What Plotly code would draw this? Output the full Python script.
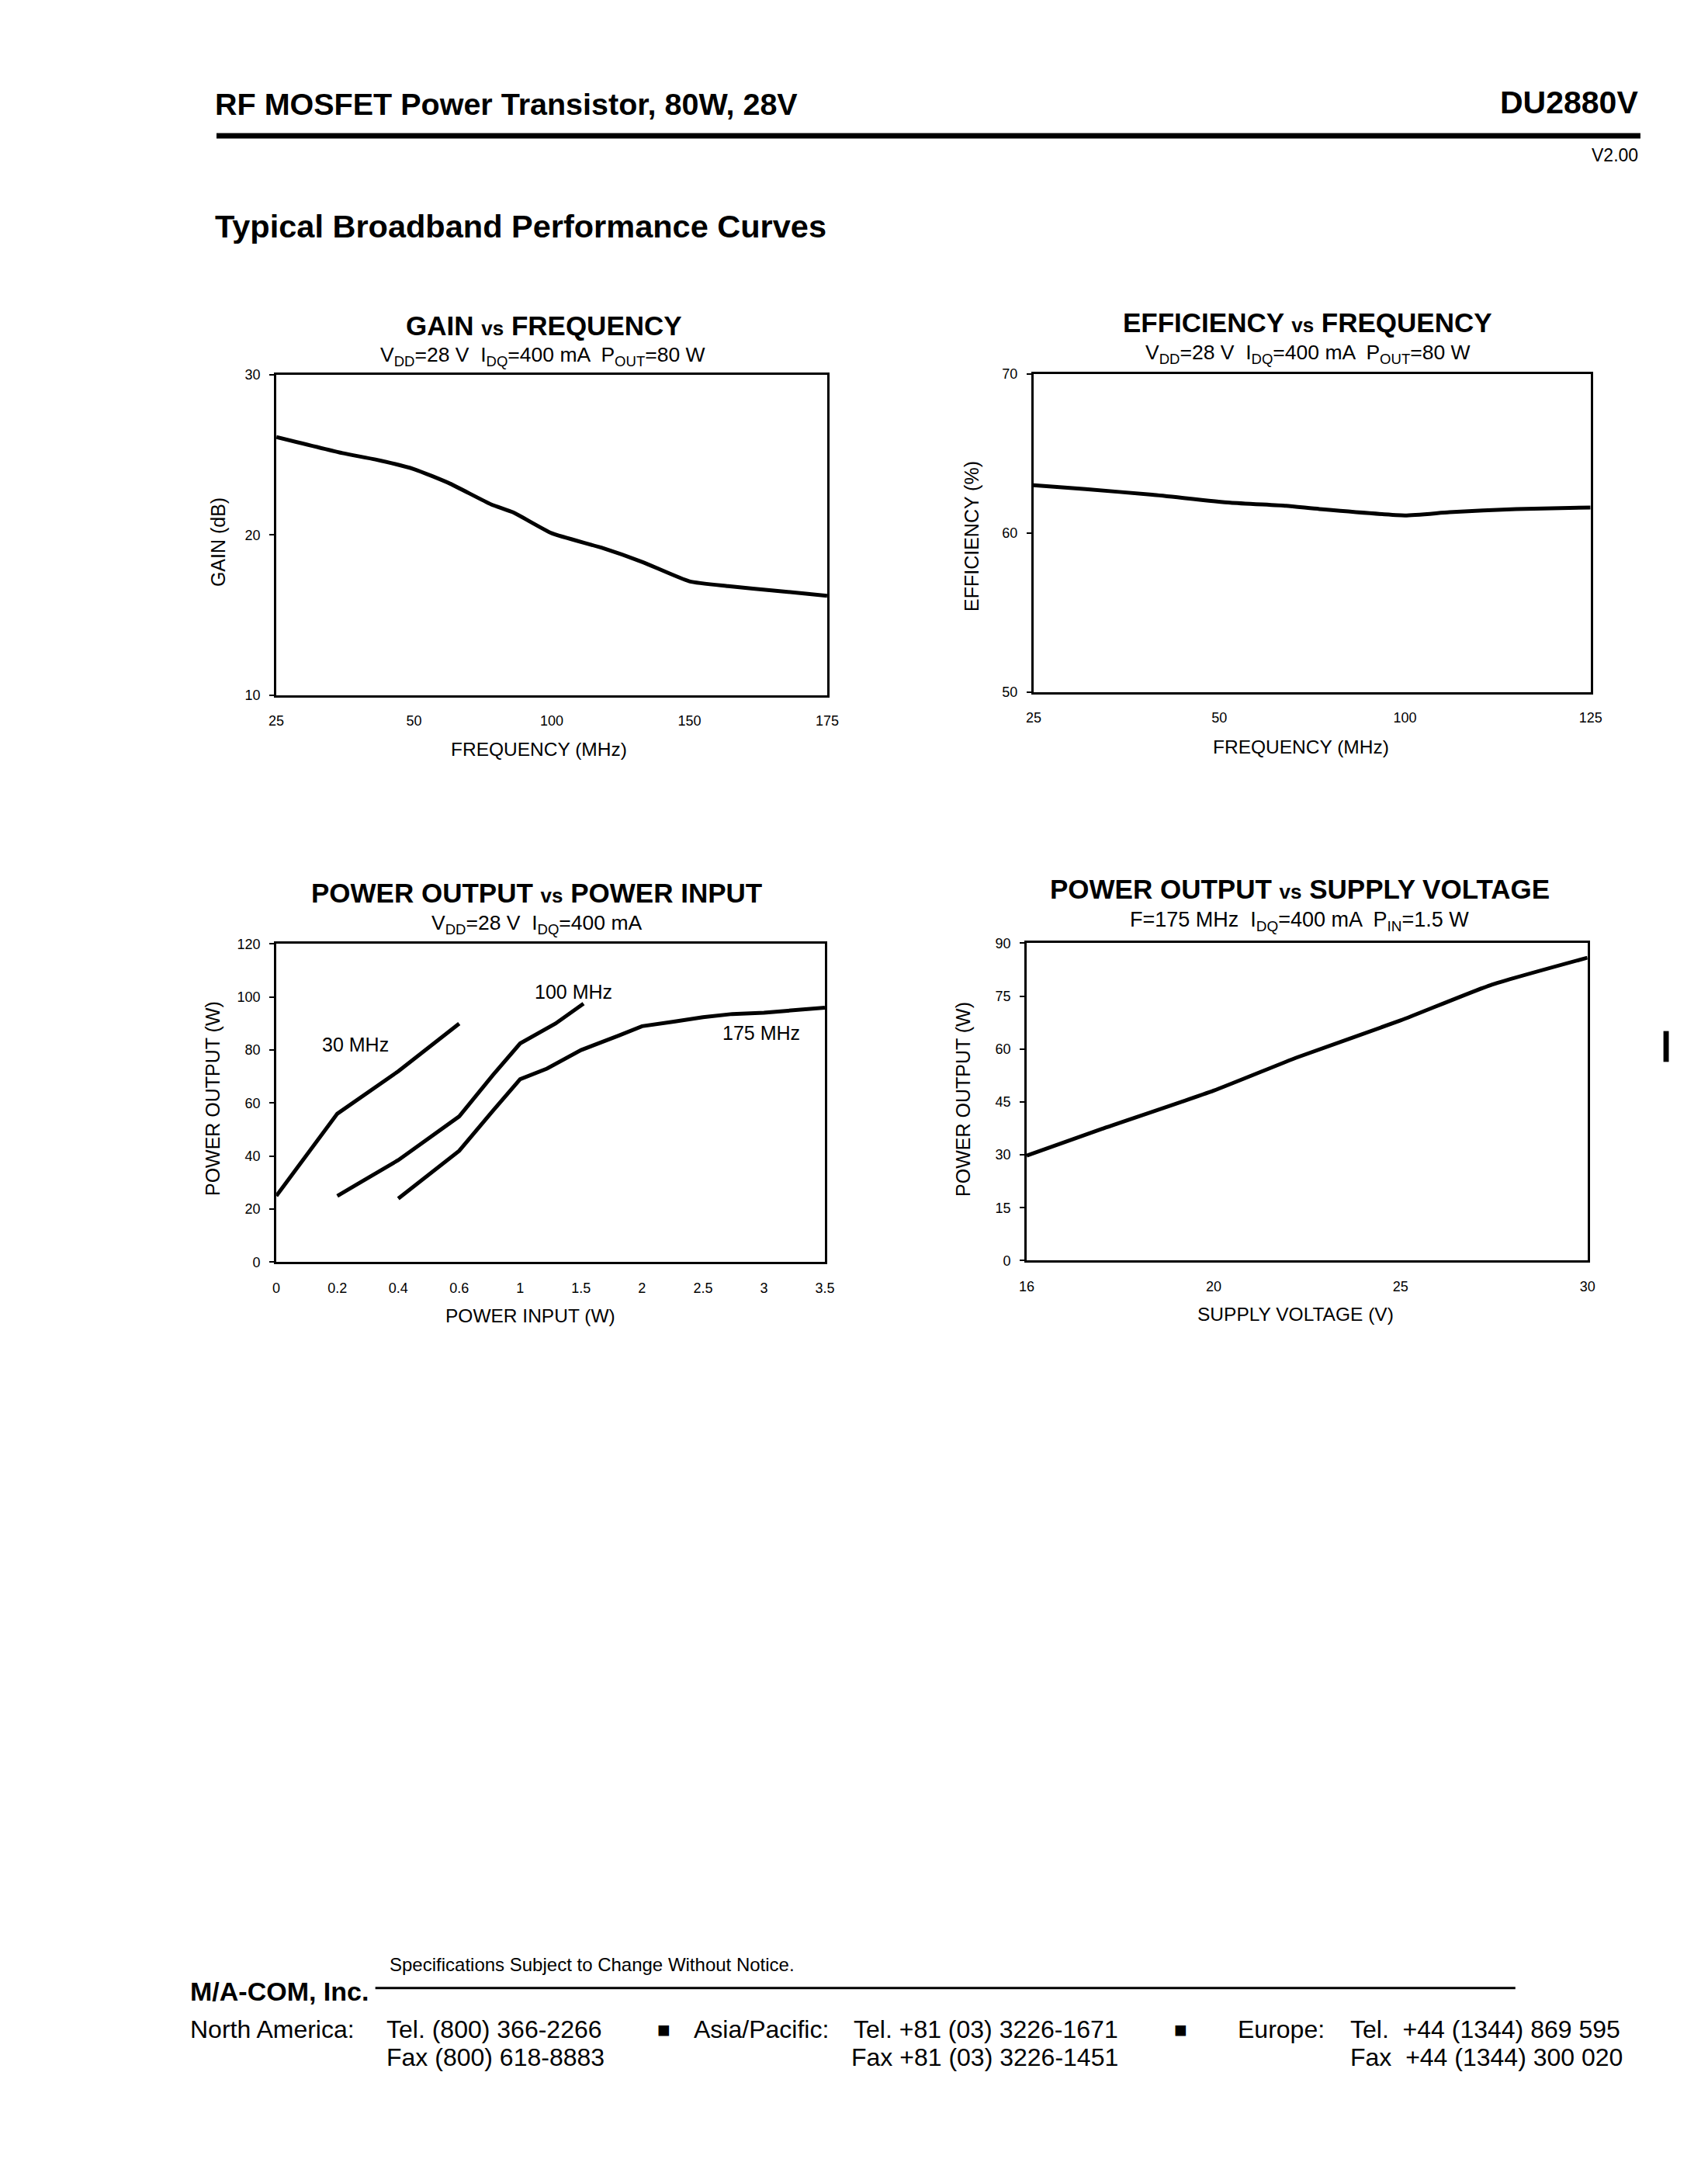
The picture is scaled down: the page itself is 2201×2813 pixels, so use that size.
import numpy as np
import plotly.graph_objects as go

W, H = 2201, 2813
FONT = "Liberation Sans"

# gain vs frequency
gain_freq = [25, 37, 43, 50, 63, 78, 86, 100, 118, 133, 150, 157, 166, 175]
gain_db = [26.1, 25.1, 24.7, 24.1, 23.2, 21.9, 21.4, 20.1, 19.2, 18.3, 17.1, 16.8, 16.5, 16.2]
gain_xticks = [25, 50, 100, 150, 175]
gain_yticks = [10, 20, 30]

# efficiency vs frequency
eff_freq = [25, 32, 41, 53, 68, 77, 100, 106, 115, 125]
eff_pct = [63.0, 62.75, 62.4, 61.9, 61.7, 61.5, 61.1, 61.3, 61.5, 61.6]
eff_xticks = [25, 50, 100, 125]
eff_yticks = [50, 60, 70]

# power output vs power input
pin_30 = [0, 0.2, 0.4, 0.6]
pout_30 = [25, 56, 72, 90]
pin_100 = [0.2, 0.4, 0.6, 0.82, 1.0, 1.29, 1.52]
pout_100 = [25, 38.5, 55, 70.5, 82.5, 90, 97.5]
pin_175 = [0.4, 0.6, 0.82, 1.0, 1.22, 1.5, 1.81, 2.0, 2.26, 2.5, 2.74, 3.0, 3.5]
pout_175 = [24, 42, 57, 69, 73, 80, 85.5, 89, 90.7, 92.4, 93.6, 94.1, 96]
pin_xticks = [0, 0.2, 0.4, 0.6, 1, 1.5, 2, 2.5, 3, 3.5]
pin_xlabels = ["0", "0.2", "0.4", "0.6", "1", "1.5", "2", "2.5", "3", "3.5"]
pin_yticks = [0, 20, 40, 60, 80, 100, 120]
freq_labels = ["30 MHz", "100 MHz", "175 MHz"]

# power output vs supply voltage
vdd = [16, 17.6, 20, 22.25, 25, 27.4, 30]
pout_vdd = [29.8, 37.3, 48.2, 57.7, 68.1, 78.1, 85.9]
vdd_xticks = [16, 20, 25, 30]
vdd_yticks = [0, 15, 30, 45, 60, 75, 90]


def pos(vals, ticks):
    """place values on an axis whose ticks are equally spaced"""
    return np.interp(vals, ticks, np.arange(len(ticks)))


def px(x):
    return x / W


def py(y):
    return 1 - y / H


def text(fig, s, x, y, size, xanchor="center", angle=0, bold=False):
    if bold:
        s = "<b>" + s + "</b>"
    fig.add_annotation(text=s, x=px(x), y=py(y), xref="paper", yref="paper",
                       xanchor=xanchor, yanchor="middle", showarrow=False,
                       textangle=angle, font=dict(family=FONT, size=size, color="black"))


def xaxis(ticks, dom, anchor, labels=None):
    return dict(domain=dom, anchor=anchor, range=[0, len(ticks) - 1],
                tickvals=list(range(len(ticks))),
                ticktext=labels or [str(t) for t in ticks],
                showline=True, linecolor="black", linewidth=3, mirror=True,
                showgrid=False, zeroline=False, ticks="", ticklabelstandoff=15,
                tickfont=dict(family=FONT, size=18, color="black"))


def yaxis(ticks, dom, anchor):
    return dict(domain=dom, anchor=anchor, range=[ticks[0], ticks[-1]], tickvals=ticks,
                showline=True, linecolor="black", linewidth=3, mirror=True,
                showgrid=False, zeroline=False, ticks="outside", ticklen=6, tickwidth=2,
                tickcolor="black", ticklabelstandoff=8,
                tickfont=dict(family=FONT, size=18, color="black"))


line = dict(color="black", width=5)
smooth = dict(color="black", width=5, shape="spline", smoothing=0.5)
fig = go.Figure()
fig.add_trace(go.Scatter(x=pos(gain_freq, gain_xticks), y=gain_db, mode="lines",
                         line=smooth, xaxis="x", yaxis="y"))
fig.add_trace(go.Scatter(x=pos(eff_freq, eff_xticks), y=eff_pct, mode="lines",
                         line=smooth, xaxis="x2", yaxis="y2"))
for pin, pout in [(pin_30, pout_30), (pin_100, pout_100), (pin_175, pout_175)]:
    fig.add_trace(go.Scatter(x=pos(pin, pin_xticks), y=pout, mode="lines",
                             line=line, xaxis="x3", yaxis="y3"))
fig.add_trace(go.Scatter(x=pos(vdd, vdd_xticks), y=pout_vdd, mode="lines",
                         line=smooth, xaxis="x4", yaxis="y4"))

fig.update_layout(
    width=W, height=H, margin=dict(l=0, r=0, t=0, b=0),
    paper_bgcolor="white", plot_bgcolor="white", showlegend=False,
    xaxis=xaxis(gain_xticks, [px(342), px(1060)], "y"),
    yaxis=yaxis(gain_yticks, [py(884), py(468)], "x"),
    xaxis2=xaxis(eff_xticks, [px(1329), px(2055)], "y2"),
    yaxis2=yaxis(eff_yticks, [py(880), py(467)], "x2"),
    xaxis3=xaxis(pin_xticks, [px(342), px(1057)], "y3", pin_xlabels),
    yaxis3=yaxis(pin_yticks, [py(1620), py(1207)], "x3"),
    xaxis4=xaxis(vdd_xticks, [px(1320), px(2051)], "y4"),
    yaxis4=yaxis(vdd_yticks, [py(1618), py(1206)], "x4"),
)

# curve labels on the power input chart
for lab, xv, yv in zip(freq_labels, [0.26, 1.44, 2.98], [82, 102, 86.5]):
    fig.add_annotation(text=lab, x=float(pos(xv, pin_xticks)), y=yv, xref="x3", yref="y3",
                       showarrow=False, font=dict(family=FONT, size=25, color="black"))

# page header
text(fig, "RF MOSFET Power Transistor, 80W, 28V", 260, 117, 39.5, "left", bold=True)
text(fig, "DU2880V", 2119, 115, 41, "right", bold=True)
fig.add_shape(type="line", xref="paper", yref="paper", x0=px(264), x1=px(2120),
              y0=py(158), y1=py(158), line=dict(color="black", width=7))
text(fig, "V2.00", 2119, 183, 23, "right")
text(fig, "Typical Broadband Performance Curves", 260, 275, 41.5, "left", bold=True)

# chart titles
vs = "<span style='font-size:26px'>vs</span>"
cond = "V<sub>DD</sub>=28 V  I<sub>DQ</sub>=400 mA  P<sub>OUT</sub>=80 W"
text(fig, "GAIN " + vs + " FREQUENCY", 691, 404, 35, bold=True)
text(fig, cond, 689, 444, 26.5)
text(fig, "EFFICIENCY " + vs + " FREQUENCY", 1686, 400, 35, bold=True)
text(fig, cond, 1687, 441, 26.5)
text(fig, "POWER OUTPUT " + vs + " POWER INPUT", 681, 1141, 35, bold=True)
text(fig, "V<sub>DD</sub>=28 V  I<sub>DQ</sub>=400 mA", 681, 1181, 26.5)
text(fig, "POWER OUTPUT " + vs + " SUPPLY VOLTAGE", 1676, 1136, 35, bold=True)
text(fig, "F=175 MHz  I<sub>DQ</sub>=400 mA  P<sub>IN</sub>=1.5 W", 1676, 1177, 27)

# axis titles
text(fig, "GAIN (dB)", 266, 685, 25, angle=-90)
text(fig, "FREQUENCY (MHz)", 684, 954, 24.5)
text(fig, "EFFICIENCY (%)", 1248, 678, 25, angle=-90)
text(fig, "FREQUENCY (MHz)", 1678, 951, 24.5)
text(fig, "POWER OUTPUT (W)", 259, 1408, 25, angle=-90)
text(fig, "POWER INPUT (W)", 673, 1690, 24.5)
text(fig, "POWER OUTPUT (W)", 1237, 1408, 25, angle=-90)
text(fig, "SUPPLY VOLTAGE (V)", 1670, 1687, 24.5)

# scan mark at the right edge
fig.add_shape(type="rect", xref="paper", yref="paper", x0=px(2150), x1=px(2157),
              y0=py(1360), y1=py(1320), line=dict(width=0), fillcolor="black")

# footer
text(fig, "Specifications Subject to Change Without Notice.", 488, 2531, 24, "left")
text(fig, "M/A-COM, Inc.", 228, 2566, 34, "left", bold=True)
fig.add_shape(type="line", xref="paper", yref="paper", x0=px(471), x1=px(1957),
              y0=py(2562), y1=py(2562), line=dict(color="black", width=3))
text(fig, "North America:", 228, 2616, 32, "left")
text(fig, "Tel. (800) 366-2266", 483, 2616, 32, "left")
text(fig, "Fax (800) 618-8883", 483, 2652, 32, "left")
text(fig, "\u25a0", 847, 2616, 28)
text(fig, "Asia/Pacific:", 884, 2616, 32, "left")
text(fig, "Tel. +81 (03) 3226-1671", 1441, 2616, 32, "right")
text(fig, "Fax +81 (03) 3226-1451", 1441, 2652, 32, "right")
text(fig, "\u25a0", 1521, 2616, 28)
text(fig, "Europe:", 1593, 2616, 32, "left")
text(fig, "Tel.  +44 (1344) 869 595", 1740, 2616, 32, "left")
text(fig, "Fax  +44 (1344) 300 020", 1740, 2652, 32, "left")

fig.write_html("out.html")
